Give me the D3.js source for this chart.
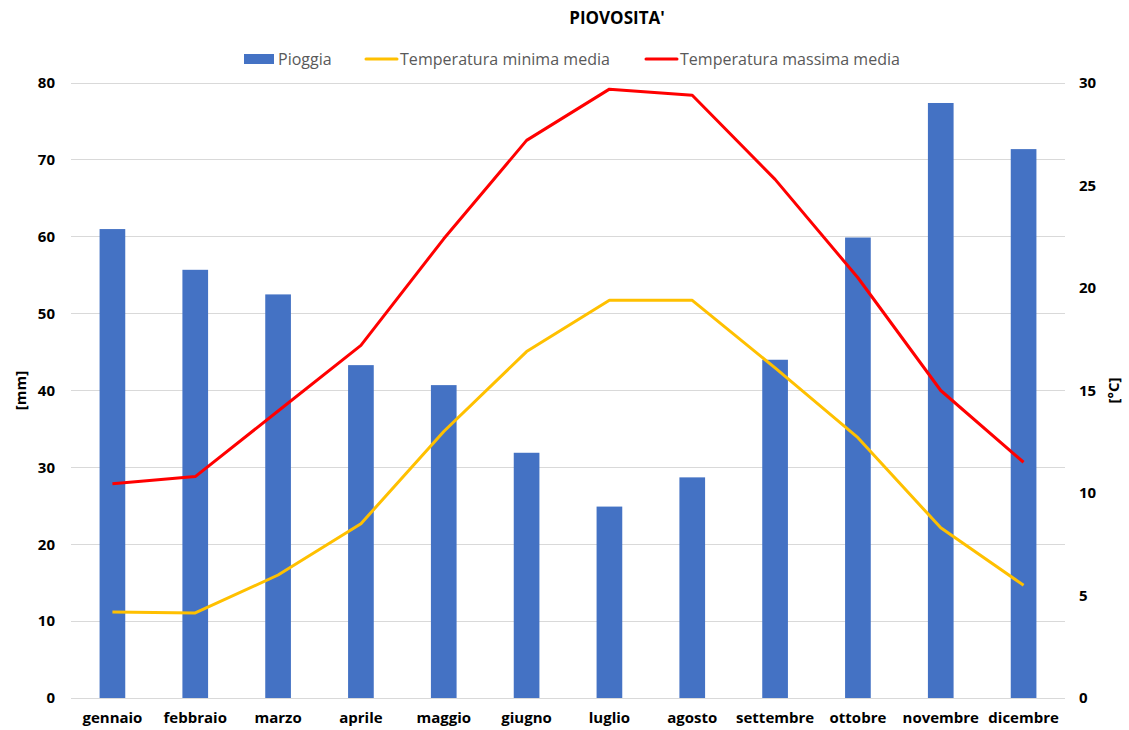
<!DOCTYPE html>
<html>
  <head>
    <meta charset="utf-8">
    <title>Piovosita'</title>
    <script src="https://d3js.org/d3.v7.min.js"></script>
    <style>
     body { margin: 0; background: #fff; font-family: "Open Sans", Lato, sans-serif; }
     .grid line { stroke: #d9d9d9; stroke-width: 1; shape-rendering: crispEdges; }
     .axis path, .axis line { display: none; }
     .axis text { font-family: "Open Sans", Lato, sans-serif; font-size: 15px; font-weight: bold; fill: #000; }
     .legend text { font-size: 16px; fill: #595959; }
    </style>
  </head>
  <body>
    <svg id="chart"></svg>
    <script>
     var months = ["gennaio", "febbraio", "marzo", "aprile", "maggio", "giugno",
		   "luglio", "agosto", "settembre", "ottobre", "novembre", "dicembre"];
     var pioggia = [61.0, 55.7, 52.5, 43.3, 40.7, 31.9, 24.9, 28.7, 44.0, 59.9, 77.4, 71.4];
     var tMin = [4.2, 4.15, 6.0, 8.5, 13.0, 16.9, 19.4, 19.4, 16.1, 12.7, 8.3, 5.5];
     var tMax = [10.45, 10.8, 14.0, 17.2, 22.4, 27.2, 29.7, 29.4, 25.3, 20.5, 15.0, 11.5];
     var mmTicks = [0, 10, 20, 30, 40, 50, 60, 70, 80];
     var cTicks = [0, 5, 10, 15, 20, 25, 30];

     var W = 1129, H = 730;
     var margin = {top: 83, right: 64, bottom: 32, left: 71};
     var width = W - margin.left - margin.right,
	 height = H - margin.top - margin.bottom;

     var svg = d3.select("#chart").attr("width", W).attr("height", H);
     var g = svg.append("g").attr("transform", "translate(" + margin.left + "," + margin.top + ")");

     var x = d3.scaleBand().domain(months).range([0, width]).paddingInner(0.69).paddingOuter(0.345);
     var xc = d3.scaleBand().domain(months).range([0, width]);
     var yL = d3.scaleLinear().domain([0, 80]).range([height, 0]);
     var yR = d3.scaleLinear().domain([0, 30]).range([height, 0]);

     // griglia
     g.append("g").attr("class", "grid")
      .selectAll("line").data(mmTicks).enter().append("line")
      .attr("x1", 0).attr("x2", width)
      .attr("y1", function(d) { return yL(d); })
      .attr("y2", function(d) { return yL(d); });

     // barre
     g.selectAll(".bar").data(pioggia).enter().append("rect")
      .attr("class", "bar")
      .attr("x", function(d, i) { return x(months[i]); })
      .attr("width", x.bandwidth())
      .attr("y", function(d) { return yL(d); })
      .attr("height", function(d) { return height - yL(d); })
      .style("fill", "#4472c4");

     var line = d3.line()
		  .x(function(d, i) { return xc(months[i]) + xc.bandwidth() / 2; })
		  .y(function(d) { return yR(d); });

     g.append("path").datum(tMin).attr("d", line)
      .style("fill", "none").style("stroke", "#ffc000").style("stroke-width", 3)
      .style("stroke-linejoin", "round");
     g.append("path").datum(tMax).attr("d", line)
      .style("fill", "none").style("stroke", "#ff0000").style("stroke-width", 3)
      .style("stroke-linejoin", "round");

     // assi
     g.append("g").attr("class", "axis")
      .attr("transform", "translate(0," + height + ")")
      .call(d3.axisBottom(xc).tickSize(0).tickPadding(14));
     g.append("g").attr("class", "axis")
      .call(d3.axisLeft(yL).tickValues(mmTicks).tickSize(0).tickPadding(16));
     g.append("g").attr("class", "axis")
      .attr("transform", "translate(" + width + ",0)")
      .call(d3.axisRight(yR).tickValues(cTicks).tickSize(0).tickPadding(14));

     // titoli assi
     svg.append("text")
	.attr("transform", "translate(26," + (margin.top + height / 2) + ") rotate(-90)")
	.style("text-anchor", "middle").style("font-size", "15px").style("font-weight", "bold")
	.text("[mm]");
     svg.append("text")
	.attr("transform", "translate(1119," + (margin.top + height / 2) + ") rotate(-90)")
	.style("text-anchor", "middle").style("font-size", "15px").style("font-weight", "bold")
	.text("[°C]");

     // titolo
     svg.append("text").attr("x", 617).attr("y", 24)
	.style("text-anchor", "middle").style("font-size", "17px").style("font-weight", "bold")
	.text("PIOVOSITA'");

     // legenda
     var lg = svg.append("g").attr("class", "legend").attr("transform", "translate(0,59)");
     lg.append("rect").attr("x", 244).attr("y", -5).attr("width", 30).attr("height", 10).style("fill", "#4472c4");
     lg.append("text").attr("x", 278).attr("y", 5.5).text("Pioggia");
     lg.append("line").attr("x1", 366).attr("x2", 397).attr("y1", 0).attr("y2", 0)
       .style("stroke", "#ffc000").style("stroke-width", 3).style("stroke-linecap", "round");
     lg.append("text").attr("x", 400).attr("y", 5.5).attr("textLength", 210).text("Temperatura minima media");
     lg.append("line").attr("x1", 646).attr("x2", 677).attr("y1", 0).attr("y2", 0)
       .style("stroke", "#ff0000").style("stroke-width", 3).style("stroke-linecap", "round");
     lg.append("text").attr("x", 680).attr("y", 5.5).attr("textLength", 220).text("Temperatura massima media");
    </script>
  </body>
</html>
